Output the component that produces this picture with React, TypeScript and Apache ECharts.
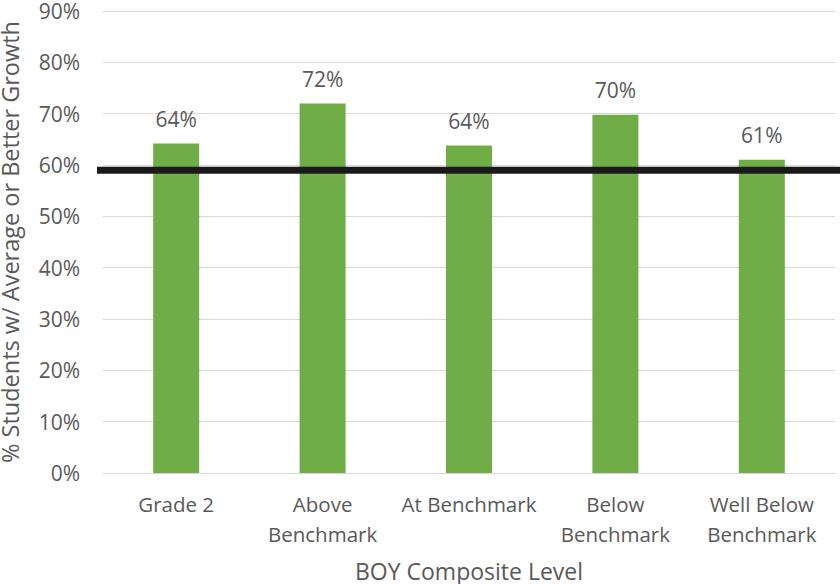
import React, { useEffect, useRef } from "react";
import * as echarts from "echarts";

const categories = ["Grade 2", "Above\nBenchmark", "At Benchmark", "Below\nBenchmark", "Well Below\nBenchmark"];
const growthPct = [64.2, 72.0, 63.8, 69.8, 61.0];
const targetPct = 59.0;
const yTicks = { min: 0, max: 90, interval: 10 };

const FONT = "'Open Sans', 'Noto Sans', sans-serif";
const TEXT = "#595959";

export default function App() {
  const ref = useRef<HTMLDivElement>(null);

  useEffect(() => {
    if (!ref.current) return;
    const chart = echarts.init(ref.current, undefined, { renderer: "svg" });
    const gridTop = 11;
    const gridBottom = 111;
    chart.setOption({
      animation: false,
      textStyle: { fontFamily: FONT },
      grid: [
        { left: 103, right: 5, top: gridTop, bottom: gridBottom, outerBoundsMode: "none", containLabel: false },
        { left: 97, right: 0, top: gridTop, bottom: gridBottom, outerBoundsMode: "none", containLabel: false },
      ],
      xAxis: [
        {
          type: "category",
          gridIndex: 0,
          data: categories,
          axisLine: { lineStyle: { color: "#D9D9D9", width: 1 } },
          axisTick: { show: false },
          axisLabel: {
            color: TEXT,
            fontSize: 20.5,
            lineHeight: 30,
            margin: 16,
            interval: 0,
            fontFamily: FONT,
          },
          name: "BOY Composite Level",
          nameLocation: "middle",
          nameGap: 86,
          nameTextStyle: { color: TEXT, fontSize: 23, fontFamily: FONT },
        },
        {
          type: "value",
          gridIndex: 1,
          min: 0,
          max: 1,
          show: false,
        },
      ],
      yAxis: [
        {
          type: "value",
          gridIndex: 0,
          min: yTicks.min,
          max: yTicks.max,
          interval: yTicks.interval,
          axisLine: { show: false },
          axisTick: { show: false },
          splitLine: { lineStyle: { color: "#D9D9D9", width: 1 } },
          axisLabel: {
            color: TEXT,
            fontSize: 21,
            margin: 23,
            formatter: (v: number) => `${v}%`,
            fontFamily: FONT,
          },
          name: "% Students w/ Average or Better Growth",
          nameLocation: "middle",
          nameGap: 81,
          nameTextStyle: { color: TEXT, fontSize: 23.5, fontFamily: FONT },
        },
        {
          type: "value",
          gridIndex: 1,
          min: yTicks.min,
          max: yTicks.max,
          show: false,
        },
      ],
      series: [
        {
          type: "bar",
          xAxisIndex: 0,
          yAxisIndex: 0,
          data: growthPct,
          barWidth: 46,
          itemStyle: { color: "#70AD47" },
          label: {
            show: true,
            position: "top",
            distance: 14,
            color: TEXT,
            fontSize: 21,
            fontFamily: FONT,
            formatter: (p: any) => `${Math.round(p.value)}%`,
          },
          z: 2,
        },
        {
          type: "line",
          xAxisIndex: 1,
          yAxisIndex: 1,
          data: [
            [0, targetPct],
            [1, targetPct],
          ],
          symbol: "none",
          lineStyle: { color: "#1A1A1A", width: 7 },
          z: 5,
        },
      ],
    });
    return () => chart.dispose();
  }, []);

  return (
    <div
      ref={ref}
      style={{ position: "absolute", left: 0, top: 0, width: 840, height: 584 }}
    />
  );
}
